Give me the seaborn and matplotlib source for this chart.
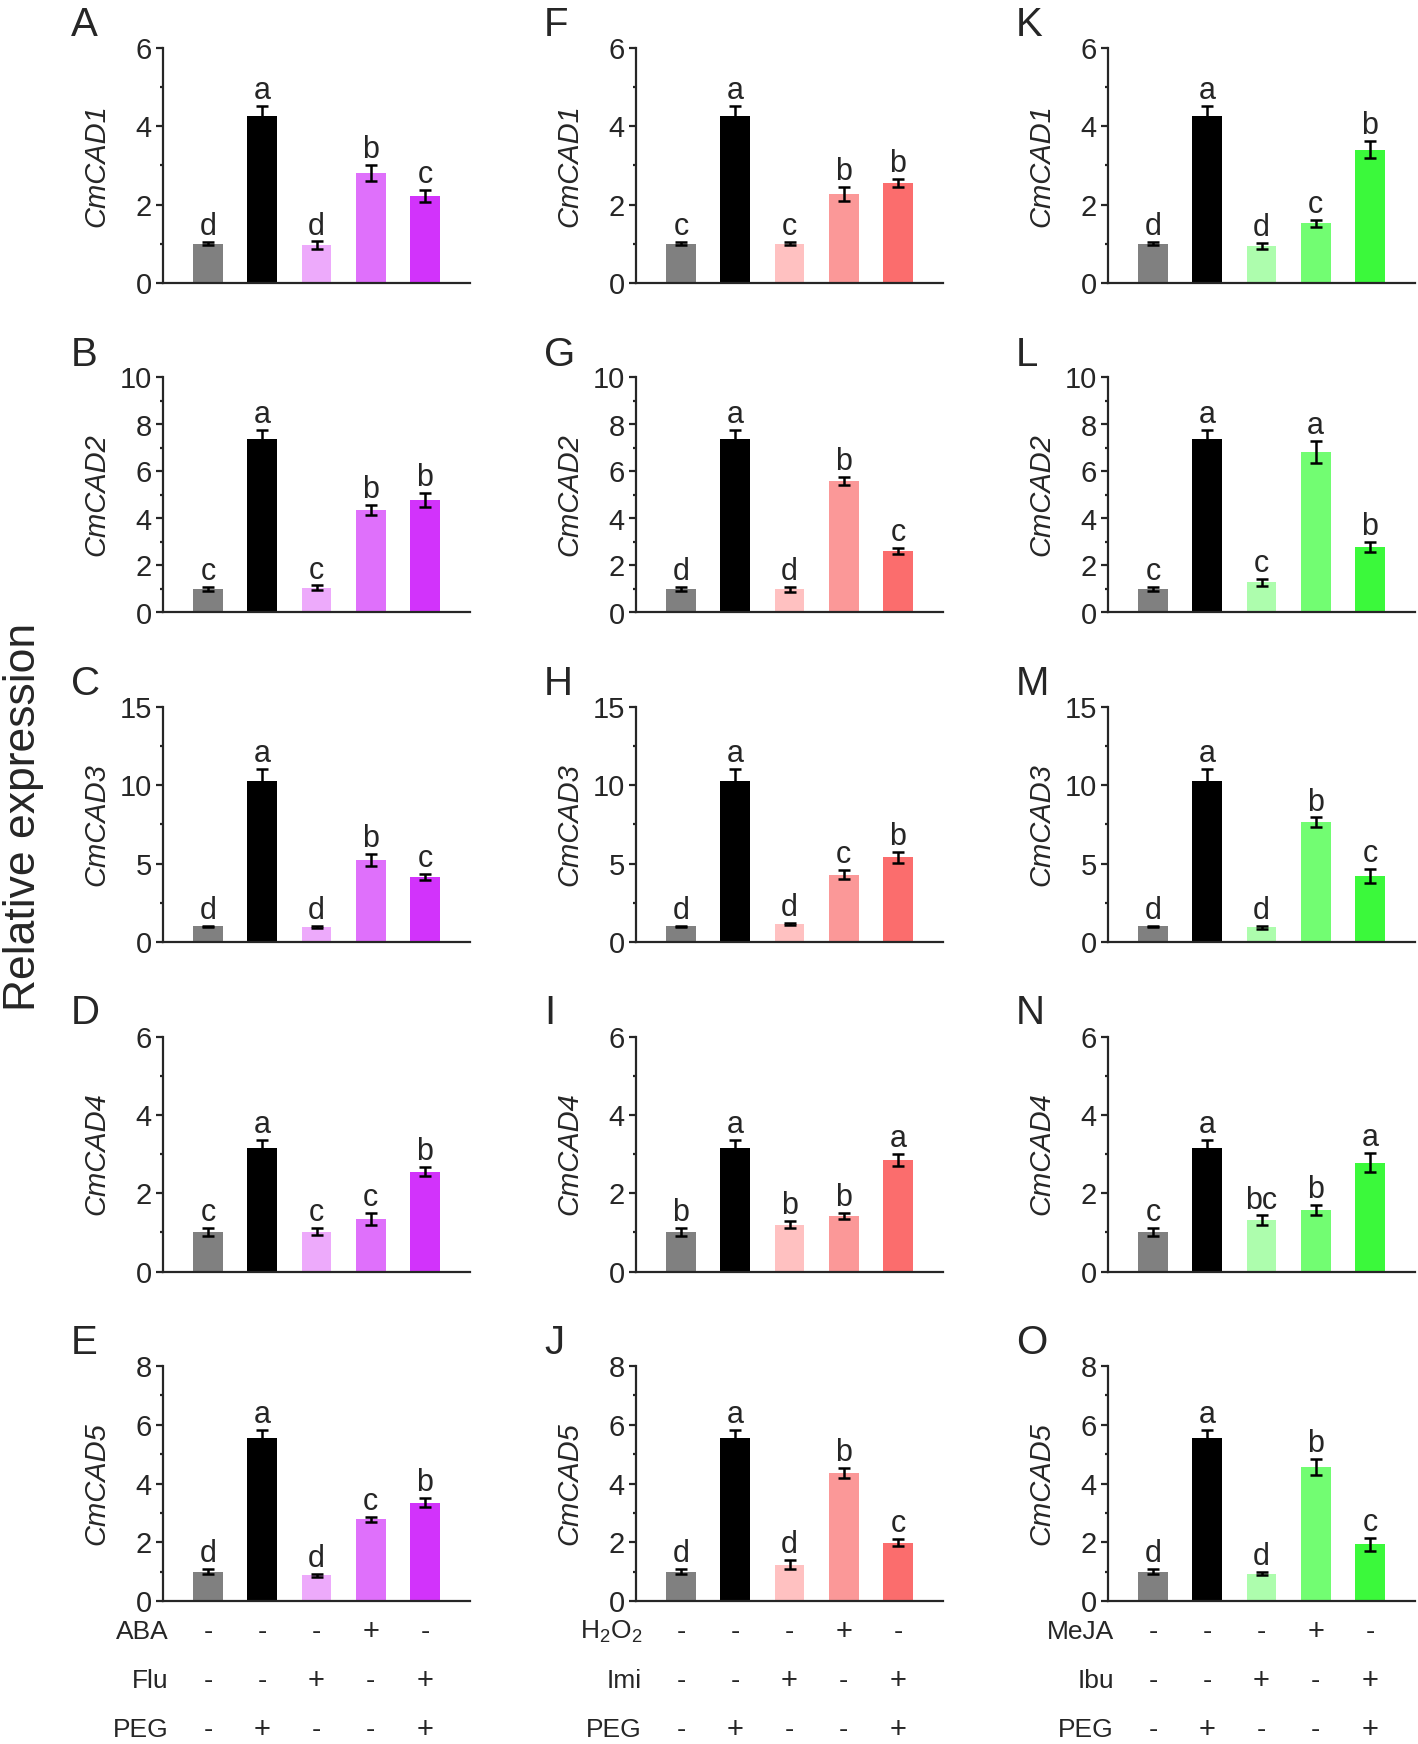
import numpy as np
import pandas as pd
import seaborn as sns
import matplotlib.pyplot as plt
from matplotlib import transforms

genes = ['CmCAD1', 'CmCAD2', 'CmCAD3', 'CmCAD4', 'CmCAD5']
groups = ['CK', 'PEG', 'Inh', 'Sig', 'Inh+PEG']
panel_letters = [['A', 'B', 'C', 'D', 'E'],
                 ['F', 'G', 'H', 'I', 'J'],
                 ['K', 'L', 'M', 'N', 'O']]

# y axis limits / major step for each gene row
ymax = [6, 10, 15, 6, 8]
ymajor = [2, 2, 5, 2, 2]

# ABA / Flu column
aba_mean = [[1.00, 4.26, 0.96, 2.81, 2.23],
            [1.00, 7.39, 1.06, 4.37, 4.79],
            [1.00, 10.3, 0.96, 5.24, 4.15],
            [1.00, 3.15, 1.02, 1.35, 2.55],
            [1.00, 5.55, 0.87, 2.78, 3.35]]
aba_err = [[0.04, 0.25, 0.10, 0.21, 0.15],
           [0.10, 0.36, 0.09, 0.21, 0.29],
           [0.05, 0.72, 0.05, 0.36, 0.21],
           [0.10, 0.20, 0.08, 0.15, 0.12],
           [0.08, 0.28, 0.06, 0.08, 0.16]]
aba_sig = [['d', 'a', 'd', 'b', 'c'],
           ['c', 'a', 'c', 'b', 'b'],
           ['d', 'a', 'd', 'b', 'c'],
           ['c', 'a', 'c', 'c', 'b'],
           ['d', 'a', 'd', 'c', 'b']]

# H2O2 / Imi column
h2o2_mean = [[1.00, 4.26, 1.00, 2.27, 2.55],
             [1.00, 7.39, 0.98, 5.58, 2.61],
             [1.00, 10.3, 1.15, 4.30, 5.40],
             [1.00, 3.15, 1.20, 1.42, 2.85],
             [1.00, 5.55, 1.24, 4.36, 1.98]]
h2o2_err = [[0.04, 0.25, 0.04, 0.18, 0.10],
            [0.10, 0.36, 0.09, 0.17, 0.14],
            [0.05, 0.72, 0.08, 0.30, 0.35],
            [0.10, 0.20, 0.08, 0.08, 0.15],
            [0.08, 0.28, 0.15, 0.17, 0.12]]
h2o2_sig = [['c', 'a', 'c', 'b', 'b'],
            ['d', 'a', 'd', 'b', 'c'],
            ['d', 'a', 'd', 'c', 'b'],
            ['b', 'a', 'b', 'b', 'a'],
            ['d', 'a', 'd', 'b', 'c']]

# MeJA / Ibu column
meja_mean = [[1.00, 4.26, 0.95, 1.53, 3.40],
             [1.00, 7.39, 1.28, 6.82, 2.80],
             [1.00, 10.3, 0.94, 7.63, 4.21],
             [1.00, 3.15, 1.31, 1.57, 2.78],
             [1.00, 5.55, 0.93, 4.57, 1.93]]
meja_err = [[0.04, 0.25, 0.07, 0.09, 0.22],
            [0.10, 0.36, 0.14, 0.46, 0.21],
            [0.05, 0.72, 0.10, 0.32, 0.43],
            [0.10, 0.20, 0.12, 0.12, 0.24],
            [0.08, 0.28, 0.06, 0.28, 0.23]]
meja_sig = [['d', 'a', 'd', 'c', 'b'],
            ['c', 'a', 'c', 'a', 'b'],
            ['d', 'a', 'd', 'b', 'c'],
            ['c', 'a', 'bc', 'b', 'a'],
            ['d', 'a', 'd', 'b', 'c']]

# treatment table under the bottom row
row1_labels = ['ABA', 'H$_2$O$_2$', 'MeJA']
row2_labels = ['Flu', 'Imi', 'Ibu']
row3_labels = ['PEG', 'PEG', 'PEG']
row1_signs = ['-', '-', '-', '+', '-']
row2_signs = ['-', '-', '+', '-', '+']
row3_signs = ['-', '+', '-', '-', '+']

palettes = [['#808080', '#000000', '#EDAAFB', '#DF70FB', '#D233FB'],
            ['#808080', '#000000', '#FFC1C1', '#FB9898', '#FB6D6D'],
            ['#808080', '#000000', '#ADFDAD', '#72FD72', '#3BF93B']]

sns.set_style('ticks')
plt.rcParams['font.family'] = ['Liberation Sans', 'DejaVu Sans']
plt.rcParams['mathtext.default'] = 'regular'

W, H = 1418, 1744
fig = plt.figure(figsize=(W / 100, H / 100), dpi=100)

col_left = [163, 636, 1108]
ax_w, ax_h = 307, 235
row_top = [48 + 329.5 * i for i in range(5)]

columns = [(aba_mean, aba_err, aba_sig),
           (h2o2_mean, h2o2_err, h2o2_sig),
           (meja_mean, meja_err, meja_sig)]

for c, (means, errs, sigs) in enumerate(columns):
    for r, gene in enumerate(genes):
        ax = fig.add_axes([col_left[c] / W, 1 - (row_top[r] + ax_h) / H, ax_w / W, ax_h / H])
        df = pd.DataFrame({'group': groups, 'value': means[r]})
        sns.barplot(data=df, x='group', y='value', hue='group', palette=palettes[c],
                    order=groups, width=0.55, linewidth=0, saturation=1,
                    legend=False, ax=ax)
        ax.errorbar(np.arange(5), means[r], yerr=errs[r], fmt='none', ecolor='black',
                    elinewidth=1.8, capsize=4, capthick=1.8, zorder=5)
        for i in range(5):
            ax.annotate(sigs[r][i], (i, means[r][i] + errs[r][i]), xytext=(0, 5),
                        textcoords='offset points', ha='center', va='baseline', fontsize=22)
        ax.set_xlim(-0.83, 4.83)
        ax.set_ylim(0, ymax[r])
        ax.set_yticks(np.arange(0, ymax[r] + 0.01, ymajor[r]))
        ax.set_yticks(np.arange(ymajor[r] / 2, ymax[r], ymajor[r]), minor=True)
        ax.set_xticks([])
        ax.set_xlabel('')
        ax.set_ylabel(gene, fontsize=21, style='italic')
        ax.yaxis.set_label_coords(-0.17, 0.5)
        ax.tick_params(axis='y', which='major', labelsize=21, width=1.6, length=5, pad=3)
        ax.tick_params(axis='y', which='minor', width=1.6, length=2.5)
        sns.despine(ax=ax)
        for s in ['left', 'bottom']:
            ax.spines[s].set_linewidth(1.6)
        fig.text((col_left[c] - 92) / W, 1 - (row_top[r] - 12) / H, panel_letters[c][r],
                 fontsize=29, ha='left', va='baseline')

        if r == 4:
            trans = transforms.blended_transform_factory(ax.transData, ax.transAxes)
            lab_list = [row1_labels[c], row2_labels[c], row3_labels[c]]
            sign_list = [row1_signs, row2_signs, row3_signs]
            ys = [-0.13, -0.34, -0.55]
            for y, lab, signs in zip(ys, lab_list, sign_list):
                ax.text(-0.72, y, lab, transform=trans, ha='right', va='center', fontsize=19)
                for i, s in enumerate(signs):
                    ax.text(i, y, s, transform=trans, ha='center', va='center',
                            fontsize=21 if s == '+' else 20)

fig.text(3 / W, 1 - 817 / H, 'Relative expression', rotation=90, ha='left', va='center',
         fontsize=32)

fig.savefig('out.png', dpi=100)
